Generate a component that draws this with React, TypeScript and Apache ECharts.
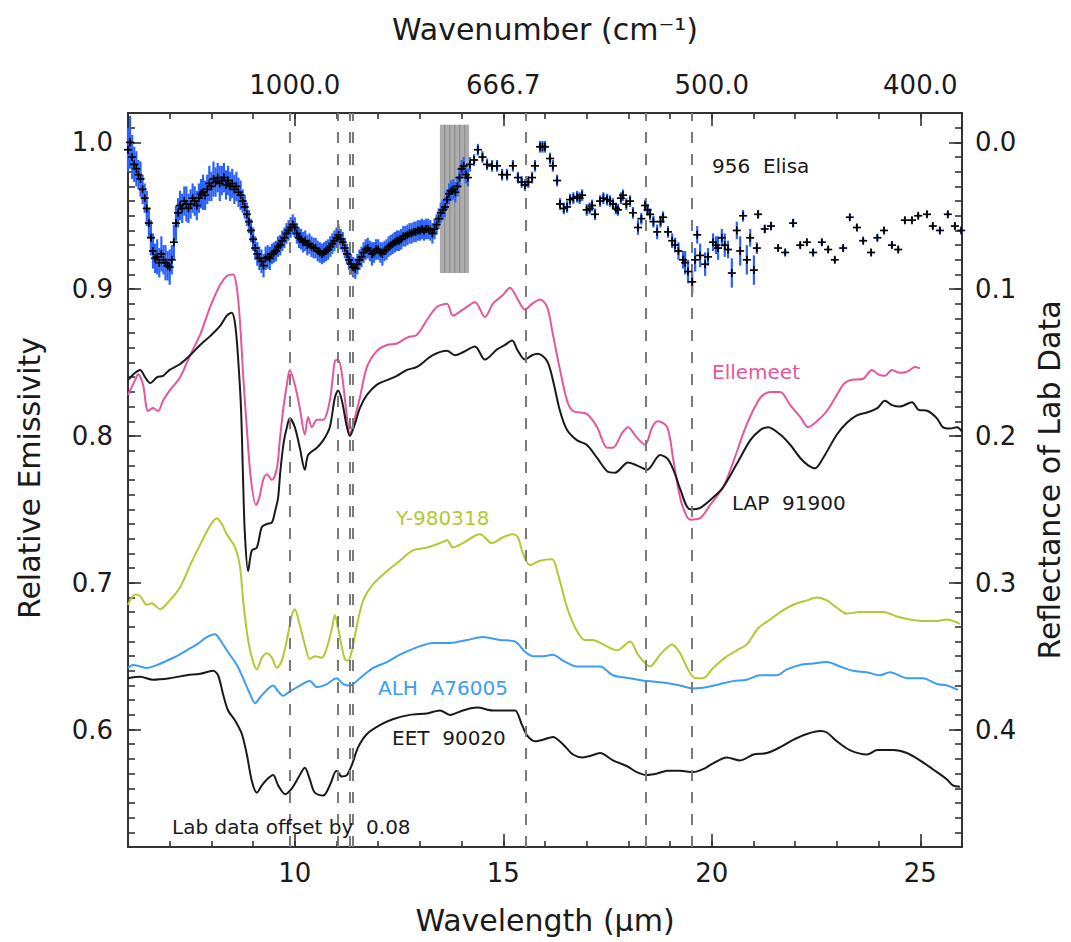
import React, { useEffect, useRef } from "react";
import * as echarts from "echarts";

// ---------- data (wavelength in µm, relative emissivity) ----------
const wlMin = 6;
const wlMax = 26;
const majorWl = [10, 15, 20, 25];
const emisTicks = [0.6, 0.7, 0.8, 0.9, 1.0];
const reflTicks = [0.0, 0.1, 0.2, 0.3, 0.4];
const featureLines = [9.88, 11.02, 11.31, 11.4, 15.54, 18.42, 19.53];
const gapBand = [13.48, 14.18, 1.012, 0.911];
const gapStripes = [13.58, 13.7, 13.82, 13.94, 14.06];

// 956 Elisa: [wavelength, emissivity, error]
const elisa = [
  [6.0,0.995,0.015],[6.05,1.0,0.018],[6.1,0.99,0.015],[6.15,0.985,0.012],[6.2,0.982,0.012],[6.25,0.978,0.01],[6.3,0.975,0.012],[6.35,0.968,0.01],[6.4,0.962,0.01],[6.45,0.955,0.012],[6.5,0.945,0.01],[6.55,0.935,0.012],[6.6,0.926,0.012],[6.65,0.921,0.01],[6.7,0.922,0.012],[6.75,0.918,0.01],[6.8,0.924,0.012],[6.85,0.92,0.01],[6.9,0.918,0.012],[6.95,0.916,0.01],[7.0,0.915,0.012],[7.05,0.92,0.01],[7.1,0.932,0.012],[7.15,0.945,0.012],[7.2,0.952,0.01],[7.25,0.957,0.01],[7.3,0.955,0.01],[7.35,0.96,0.01],[7.4,0.958,0.012],[7.45,0.955,0.01],[7.5,0.958,0.01],[7.55,0.962,0.01],[7.6,0.96,0.01],[7.65,0.957,0.01],[7.7,0.962,0.01],[7.75,0.965,0.01],[7.8,0.966,0.012],[7.85,0.964,0.01],[7.9,0.968,0.01],[7.95,0.972,0.012],[8.0,0.97,0.01],[8.05,0.975,0.012],[8.1,0.973,0.01],[8.15,0.976,0.01],[8.2,0.972,0.012],[8.25,0.974,0.01],[8.3,0.976,0.01],[8.35,0.971,0.01],[8.4,0.974,0.01],[8.45,0.97,0.01],[8.5,0.972,0.01],[8.55,0.968,0.01],[8.6,0.97,0.01],[8.65,0.966,0.01],[8.7,0.964,0.01],[8.75,0.96,0.008],[8.8,0.956,0.008],[8.85,0.951,0.008],[8.9,0.946,0.008],[8.95,0.94,0.008],[9.0,0.934,0.008],[9.05,0.928,0.008],[9.1,0.924,0.008],[9.15,0.921,0.008],[9.2,0.919,0.008],[9.25,0.916,0.008],[9.3,0.921,0.008],[9.35,0.922,0.008],[9.4,0.921,0.008],[9.45,0.924,0.007],[9.5,0.925,0.007],[9.55,0.926,0.007],[9.6,0.929,0.007],[9.65,0.93,0.007],[9.7,0.933,0.007],[9.75,0.935,0.007],[9.8,0.938,0.007],[9.85,0.94,0.007],[9.9,0.942,0.007],[9.95,0.944,0.007],[10.0,0.942,0.007],[10.05,0.938,0.007],[10.1,0.935,0.007],[10.15,0.934,0.007],[10.2,0.932,0.007],[10.25,0.933,0.007],[10.3,0.93,0.007],[10.35,0.931,0.007],[10.4,0.929,0.007],[10.45,0.928,0.007],[10.5,0.928,0.007],[10.55,0.926,0.007],[10.6,0.925,0.007],[10.65,0.924,0.007],[10.7,0.925,0.007],[10.75,0.926,0.007],[10.8,0.927,0.007],[10.85,0.929,0.007],[10.9,0.931,0.007],[10.95,0.933,0.007],[11.0,0.935,0.007],[11.05,0.937,0.007],[11.1,0.934,0.007],[11.15,0.932,0.007],[11.2,0.928,0.007],[11.25,0.924,0.007],[11.3,0.92,0.007],[11.35,0.917,0.007],[11.4,0.915,0.007],[11.45,0.914,0.007],[11.5,0.917,0.007],[11.55,0.92,0.007],[11.6,0.922,0.007],[11.65,0.925,0.007],[11.7,0.927,0.007],[11.75,0.928,0.007],[11.8,0.926,0.007],[11.85,0.924,0.008],[11.9,0.925,0.007],[11.95,0.927,0.007],[12.0,0.927,0.007],[12.05,0.925,0.007],[12.1,0.924,0.008],[12.15,0.926,0.007],[12.2,0.927,0.007],[12.25,0.929,0.007],[12.3,0.93,0.007],[12.35,0.931,0.007],[12.4,0.932,0.007],[12.45,0.933,0.007],[12.5,0.933,0.007],[12.55,0.934,0.007],[12.6,0.936,0.007],[12.65,0.936,0.007],[12.7,0.937,0.007],[12.75,0.938,0.007],[12.8,0.938,0.007],[12.85,0.939,0.007],[12.9,0.939,0.007],[12.95,0.94,0.007],[13.0,0.94,0.007],[13.05,0.941,0.007],[13.1,0.94,0.007],[13.15,0.941,0.007],[13.2,0.941,0.007],[13.25,0.94,0.007],[13.3,0.938,0.007],[13.35,0.941,0.007],[13.4,0.944,0.007],[13.45,0.948,0.007],[13.5,0.952,0.007],[13.55,0.954,0.007],[13.6,0.956,0.007],[13.65,0.961,0.007],[13.7,0.965,0.007],[13.75,0.967,0.007],[13.8,0.968,0.007],[13.85,0.966,0.007],[13.9,0.97,0.007],[13.95,0.976,0.007],[14.0,0.982,0.006],[14.05,0.984,0.006],[14.1,0.978,0.006],[14.15,0.976,0.006],[14.2,0.985,0.005],
  [14.3,0.988,0.004],[14.39,0.995,0.004],[14.5,0.99,0.004],[14.61,0.985,0.004],[14.73,0.984,0.004],[14.85,0.984,0.004],[14.97,0.978,0.004],[15.09,0.978,0.004],[15.23,0.984,0.004],[15.35,0.976,0.004],[15.44,0.973,0.004],[15.52,0.971,0.004],[15.6,0.973,0.004],[15.69,0.976,0.004],[15.76,0.984,0.004],[15.88,0.997,0.004],[15.94,0.997,0.004],[16.0,0.997,0.004],[16.12,0.989,0.004],[16.19,0.984,0.004],[16.29,0.974,0.004],[16.36,0.958,0.004],[16.45,0.955,0.004],[16.53,0.956,0.004],[16.6,0.961,0.004],[16.68,0.962,0.004],[16.77,0.963,0.004],[16.83,0.962,0.004],[16.89,0.964,0.004],[17.0,0.954,0.004],[17.07,0.955,0.004],[17.13,0.957,0.004],[17.2,0.951,0.004],[17.32,0.96,0.004],[17.4,0.962,0.004],[17.49,0.961,0.004],[17.56,0.96,0.004],[17.63,0.958,0.004],[17.7,0.955,0.004],[17.75,0.954,0.004],[17.82,0.962,0.004],[17.87,0.964,0.004],[17.95,0.958,0.004],[18.04,0.96,0.004],[18.11,0.952,0.004],[18.23,0.942,0.005],[18.31,0.948,0.004],[18.4,0.957,0.004],[18.46,0.954,0.004],[18.52,0.951,0.004],[18.6,0.946,0.004],[18.69,0.939,0.005],[18.77,0.946,0.004],[18.83,0.949,0.004],[18.95,0.939,0.004],[19.05,0.933,0.005],[19.12,0.93,0.005],[19.2,0.926,0.006],[19.31,0.92,0.006],[19.36,0.918,0.008],[19.43,0.912,0.008],[19.53,0.905,0.008],[19.6,0.92,0.008],[19.65,0.937,0.006],[19.72,0.923,0.008],[19.84,0.917,0.008],[19.91,0.922,0.006],[20.03,0.932,0.006],[20.1,0.93,0.006],[20.15,0.928,0.008],[20.24,0.935,0.006],[20.31,0.93,0.008],[20.39,0.927,0.006],[20.48,0.911,0.01],[20.6,0.94,0.006],[20.68,0.926,0.01],[20.75,0.95,0.004],[20.84,0.92,0.01],[20.92,0.935,0.006],[21.01,0.913,0.01],[21.08,0.928,0.004],[21.11,0.951,0.003],[21.27,0.941,0.003],[21.42,0.943,0.003],[21.59,0.928,0.002],[21.76,0.925,0.002],[21.95,0.945,0.003],[22.12,0.93,0.002],[22.28,0.932,0.002],[22.43,0.925,0.002],[22.64,0.932,0.002],[22.79,0.927,0.002],[22.95,0.92,0.002],[23.15,0.928,0.002],[23.31,0.949,0.002],[23.48,0.942,0.002],[23.63,0.933,0.002],[23.82,0.925,0.002],[23.97,0.935,0.002],[24.13,0.94,0.002],[24.32,0.93,0.002],[24.47,0.927,0.002],[24.63,0.947,0.002],[24.8,0.947,0.002],[24.95,0.95,0.002],[25.16,0.951,0.002],[25.3,0.943,0.002],[25.47,0.94,0.002],[25.66,0.951,0.002],[25.83,0.943,0.002],[25.98,0.94,0.002],
];

const ellemeet = [
  [6.0,0.828],[6.17,0.838],[6.24,0.842],[6.36,0.835],[6.48,0.817],[6.6,0.819],[6.72,0.817],[6.84,0.824],[7.0,0.831],[7.25,0.84],[7.49,0.855],[7.73,0.869],[7.97,0.888],[8.21,0.903],[8.37,0.909],[8.52,0.91],[8.61,0.901],[8.69,0.876],[8.76,0.842],[8.85,0.805],[8.95,0.77],[9.07,0.753],[9.15,0.758],[9.24,0.77],[9.33,0.774],[9.45,0.77],[9.57,0.778],[9.64,0.797],[9.73,0.82],[9.81,0.835],[9.88,0.845],[10.0,0.835],[10.12,0.819],[10.24,0.801],[10.32,0.813],[10.41,0.806],[10.53,0.811],[10.68,0.811],[10.84,0.824],[10.96,0.851],[11.04,0.852],[11.13,0.842],[11.25,0.813],[11.32,0.801],[11.4,0.808],[11.56,0.826],[11.73,0.847],[11.97,0.858],[12.21,0.862],[12.45,0.863],[12.69,0.867],[12.93,0.869],[13.17,0.879],[13.41,0.888],[13.65,0.89],[13.79,0.882],[14.03,0.886],[14.32,0.891],[14.56,0.881],[14.75,0.89],[14.99,0.896],[15.16,0.901],[15.33,0.894],[15.52,0.886],[15.69,0.89],[15.88,0.893],[16.05,0.888],[16.19,0.869],[16.36,0.845],[16.53,0.824],[16.67,0.817],[17.0,0.815],[17.25,0.806],[17.49,0.792],[17.63,0.792],[17.85,0.802],[17.99,0.806],[18.2,0.799],[18.4,0.794],[18.57,0.806],[18.71,0.81],[18.93,0.806],[19.07,0.785],[19.19,0.765],[19.3,0.752],[19.48,0.743],[19.72,0.744],[19.96,0.753],[20.27,0.765],[20.51,0.782],[20.84,0.808],[21.16,0.826],[21.4,0.83],[21.64,0.83],[21.88,0.821],[22.12,0.813],[22.31,0.806],[22.52,0.81],[22.76,0.817],[23.0,0.828],[23.15,0.835],[23.31,0.838],[23.63,0.839],[23.84,0.845],[23.99,0.842],[24.15,0.841],[24.32,0.845],[24.51,0.843],[24.7,0.844],[24.87,0.847],[24.99,0.846],
];

const lap91900 = [
  [6.0,0.838],[6.17,0.843],[6.29,0.845],[6.41,0.84],[6.53,0.836],[6.7,0.84],[6.84,0.841],[7.0,0.845],[7.25,0.849],[7.49,0.855],[7.73,0.862],[7.97,0.868],[8.21,0.875],[8.37,0.882],[8.49,0.884],[8.57,0.876],[8.64,0.853],[8.71,0.819],[8.76,0.77],[8.8,0.735],[8.88,0.708],[8.97,0.722],[9.09,0.724],[9.21,0.738],[9.33,0.74],[9.45,0.741],[9.53,0.749],[9.6,0.758],[9.65,0.775],[9.73,0.795],[9.81,0.806],[9.88,0.812],[10.0,0.806],[10.12,0.792],[10.24,0.777],[10.32,0.787],[10.53,0.792],[10.68,0.797],[10.84,0.806],[10.96,0.826],[11.04,0.831],[11.13,0.824],[11.25,0.806],[11.32,0.8],[11.44,0.808],[11.56,0.819],[11.73,0.828],[11.97,0.835],[12.21,0.838],[12.45,0.841],[12.69,0.845],[12.93,0.847],[13.31,0.855],[13.65,0.858],[13.84,0.855],[14.03,0.857],[14.32,0.861],[14.56,0.852],[14.85,0.859],[15.04,0.862],[15.21,0.865],[15.35,0.858],[15.52,0.852],[15.69,0.855],[15.83,0.856],[16.05,0.851],[16.19,0.838],[16.36,0.817],[16.53,0.804],[16.77,0.797],[17.0,0.794],[17.25,0.785],[17.49,0.776],[17.68,0.775],[17.99,0.782],[18.2,0.78],[18.45,0.777],[18.76,0.787],[18.95,0.784],[19.12,0.774],[19.24,0.764],[19.48,0.75],[19.72,0.751],[20.03,0.758],[20.27,0.765],[20.6,0.781],[20.92,0.797],[21.16,0.804],[21.35,0.806],[21.64,0.801],[21.88,0.794],[22.12,0.785],[22.31,0.78],[22.48,0.778],[22.67,0.785],[23.0,0.801],[23.24,0.809],[23.48,0.814],[23.72,0.816],[23.97,0.819],[24.15,0.824],[24.32,0.821],[24.51,0.82],[24.8,0.823],[24.95,0.818],[25.18,0.817],[25.4,0.812],[25.54,0.806],[25.71,0.805],[25.88,0.806],[26.0,0.803],
];

const y980318 = [
  [6.0,0.685],[6.17,0.692],[6.29,0.691],[6.45,0.685],[6.57,0.686],[6.77,0.682],[7.0,0.688],[7.25,0.697],[7.49,0.712],[7.73,0.726],[7.97,0.739],[8.13,0.744],[8.25,0.74],[8.37,0.733],[8.57,0.724],[8.69,0.71],[8.76,0.688],[8.88,0.661],[9.0,0.646],[9.09,0.641],[9.21,0.649],[9.33,0.652],[9.45,0.649],[9.57,0.642],[9.69,0.647],[9.81,0.661],[9.93,0.678],[10.0,0.682],[10.12,0.671],[10.24,0.658],[10.36,0.648],[10.48,0.65],[10.65,0.649],[10.77,0.656],[10.89,0.669],[10.96,0.678],[11.04,0.669],[11.13,0.656],[11.2,0.648],[11.28,0.647],[11.37,0.654],[11.49,0.671],[11.64,0.688],[11.88,0.699],[12.21,0.708],[12.52,0.715],[12.83,0.722],[13.17,0.724],[13.48,0.727],[13.65,0.729],[13.79,0.724],[14.03,0.727],[14.44,0.733],[14.73,0.727],[14.99,0.731],[15.23,0.733],[15.35,0.731],[15.47,0.72],[15.64,0.712],[15.88,0.715],[16.17,0.716],[16.31,0.706],[16.53,0.683],[16.77,0.667],[16.96,0.661],[17.15,0.661],[17.39,0.658],[17.73,0.654],[18.04,0.66],[18.23,0.651],[18.52,0.643],[18.76,0.651],[19.05,0.658],[19.24,0.652],[19.41,0.642],[19.6,0.635],[19.79,0.635],[20.03,0.642],[20.32,0.649],[20.6,0.654],[20.84,0.658],[21.11,0.669],[21.4,0.675],[21.64,0.68],[21.95,0.685],[22.28,0.688],[22.52,0.69],[22.76,0.688],[23.0,0.683],[23.24,0.679],[23.55,0.68],[23.87,0.68],[24.11,0.68],[24.44,0.677],[24.75,0.675],[25.06,0.674],[25.4,0.674],[25.64,0.675],[25.95,0.672],
];

const alhA76005 = [
  [6.0,0.642],[6.12,0.644],[6.29,0.643],[6.45,0.642],[6.7,0.644],[6.94,0.647],[7.17,0.65],[7.41,0.654],[7.65,0.658],[7.89,0.663],[8.09,0.665],[8.21,0.661],[8.37,0.654],[8.61,0.644],[8.76,0.635],[8.93,0.624],[9.05,0.618],[9.17,0.622],[9.33,0.627],[9.48,0.63],[9.6,0.626],[9.72,0.623],[9.88,0.626],[10.12,0.63],[10.36,0.633],[10.53,0.629],[10.77,0.631],[11.0,0.635],[11.16,0.631],[11.32,0.63],[11.56,0.635],[11.88,0.642],[12.21,0.646],[12.52,0.651],[12.93,0.656],[13.31,0.659],[13.72,0.659],[14.13,0.661],[14.51,0.663],[14.92,0.661],[15.28,0.66],[15.52,0.653],[15.71,0.65],[15.95,0.65],[16.19,0.651],[16.43,0.647],[16.77,0.643],[17.08,0.643],[17.32,0.643],[17.63,0.637],[18.04,0.635],[18.45,0.633],[18.83,0.632],[19.24,0.63],[19.55,0.628],[19.89,0.629],[20.2,0.631],[20.51,0.633],[20.84,0.634],[21.16,0.637],[21.56,0.637],[21.8,0.641],[22.12,0.644],[22.43,0.645],[22.76,0.646],[23.07,0.643],[23.39,0.64],[23.72,0.639],[24.03,0.637],[24.27,0.639],[24.68,0.635],[25.06,0.635],[25.4,0.631],[25.64,0.63],[25.9,0.627],
];

const eet90020 = [
  [6.0,0.635],[6.29,0.636],[6.6,0.634],[7.0,0.635],[7.41,0.637],[7.73,0.638],[8.04,0.64],[8.16,0.637],[8.28,0.624],[8.4,0.613],[8.57,0.606],[8.73,0.597],[8.85,0.583],[8.97,0.565],[9.09,0.557],[9.21,0.562],[9.33,0.566],[9.48,0.569],[9.6,0.562],[9.77,0.556],[9.93,0.56],[10.08,0.567],[10.24,0.574],[10.36,0.566],[10.48,0.557],[10.68,0.555],[10.84,0.562],[11.0,0.572],[11.13,0.568],[11.25,0.569],[11.37,0.576],[11.52,0.588],[11.73,0.597],[12.04,0.603],[12.35,0.607],[12.76,0.61],[13.17,0.611],[13.48,0.613],[13.72,0.61],[14.03,0.613],[14.37,0.615],[14.75,0.613],[15.09,0.613],[15.28,0.613],[15.45,0.603],[15.57,0.596],[15.76,0.592],[15.95,0.593],[16.19,0.595],[16.43,0.59],[16.67,0.583],[16.91,0.581],[17.08,0.582],[17.32,0.584],[17.63,0.579],[17.97,0.575],[18.2,0.571],[18.45,0.569],[18.69,0.57],[18.93,0.572],[19.24,0.572],[19.55,0.571],[19.79,0.573],[20.03,0.577],[20.36,0.581],[20.68,0.579],[21.0,0.583],[21.32,0.584],[21.64,0.588],[21.95,0.593],[22.28,0.597],[22.6,0.599],[22.76,0.598],[23.0,0.592],[23.31,0.586],[23.72,0.583],[23.97,0.586],[24.35,0.586],[24.68,0.584],[24.99,0.579],[25.3,0.573],[25.64,0.566],[25.78,0.562],[25.95,0.561],
];

// ---------- styling ----------
const FONT = "DejaVu Sans";
const INK = "#1a1a1a";
const PINK = "#e6569b";
const LIME = "#b3c933";
const SKY = "#3d9df2";

function buildOption() {
  const axisLine = { show: true, onZero: false, lineStyle: { color: "#333", width: 2 } };
  const noLine = { show: false, onZero: false };
  const tickStyle = { color: "#333", width: 1.6 };
  const labelStyle = { fontSize: 26, color: INK, fontFamily: FONT };
  const noSplit = { show: false };

  const xAxes = [
    {
      type: "value", min: wlMin, max: wlMax, position: "bottom", axisLine,
      axisTick: { show: true, inside: true, length: 13, customValues: majorWl, lineStyle: tickStyle },
      axisLabel: { ...labelStyle, customValues: majorWl, margin: 13, formatter: (v: number) => String(v) },
      splitLine: noSplit,
    },
    {
      type: "value", min: wlMin, max: wlMax, interval: 1, position: "bottom",
      axisLine: noLine,
      axisTick: { show: true, inside: true, length: 6, lineStyle: tickStyle },
      axisLabel: { show: false }, splitLine: noSplit,
    },
    {
      type: "value", min: wlMin, max: wlMax, position: "top", axisLine,
      axisTick: { show: true, inside: true, length: 13, customValues: majorWl, lineStyle: tickStyle },
      axisLabel: { ...labelStyle, customValues: majorWl, margin: 15, formatter: (v: number) => (10000 / v).toFixed(1) },
      splitLine: noSplit,
    },
    {
      type: "value", min: wlMin, max: wlMax, interval: 1, position: "top",
      axisLine: noLine,
      axisTick: { show: true, inside: true, length: 6, lineStyle: tickStyle },
      axisLabel: { show: false }, splitLine: noSplit,
    },
  ];

  const yAxes = [
    {
      type: "value", min: 0.52, max: 1.02, position: "left", axisLine,
      axisTick: { show: true, inside: true, length: 13, customValues: emisTicks, lineStyle: tickStyle },
      axisLabel: { ...labelStyle, customValues: emisTicks, margin: 15, formatter: (v: number) => v.toFixed(1) },
      splitLine: noSplit,
    },
    {
      type: "value", min: 0.52, max: 1.02, interval: 0.01, position: "left",
      axisLine: noLine,
      axisTick: { show: true, inside: true, length: 7, lineStyle: tickStyle },
      axisLabel: { show: false }, splitLine: noSplit,
    },
    {
      type: "value", min: -0.02, max: 0.48, inverse: true, position: "right", axisLine,
      axisTick: { show: true, inside: true, length: 13, customValues: reflTicks, lineStyle: tickStyle },
      axisLabel: { ...labelStyle, customValues: reflTicks, margin: 13, formatter: (v: number) => Math.abs(v).toFixed(1) },
      splitLine: noSplit,
    },
    {
      type: "value", min: -0.02, max: 0.48, interval: 0.01, inverse: true, position: "right",
      axisLine: noLine,
      axisTick: { show: true, inside: true, length: 7, lineStyle: tickStyle },
      axisLabel: { show: false }, splitLine: noSplit,
    },
  ];

  const curve = (name: string, data: number[][], color: string) => ({
    name, type: "line", data, xAxisIndex: 0, yAxisIndex: 0,
    symbol: "none", showSymbol: false, smooth: 0.3, z: 3,
    lineStyle: { color, width: 2 }, silent: true,
  });

  const bandAreas: any[] = [
    [{ xAxis: gapBand[0], yAxis: gapBand[2] }, { xAxis: gapBand[1], yAxis: gapBand[3] }],
    ...gapStripes.map((s) => [
      { xAxis: s, yAxis: gapBand[2], itemStyle: { color: "#8f8f8f" } },
      { xAxis: s + 0.03, yAxis: gapBand[3] },
    ]),
  ];

  const series: any[] = [
    {
      name: "refs", type: "line", data: [], xAxisIndex: 0, yAxisIndex: 0, z: 1, silent: true,
      markArea: {
        silent: true,
        itemStyle: { color: "#adadad", opacity: 1 },
        data: bandAreas,
      },
      markLine: {
        silent: true, symbol: ["none", "none"], label: { show: false },
        lineStyle: { color: "#7a7a7a", type: [11, 11], width: 2 },
        data: featureLines.map((v) => ({ xAxis: v })),
      },
    },
    curve("Ellemeet", ellemeet, PINK),
    curve("LAP 91900", lap91900, INK),
    curve("Y-980318", y980318, LIME),
    curve("ALH A76005", alhA76005, SKY),
    curve("EET 90020", eet90020, INK),
    {
      name: "956 Elisa error", type: "custom", data: elisa, xAxisIndex: 0, yAxisIndex: 0, z: 4, silent: true,
      encode: { x: 0, y: 1 },
      renderItem: (_p: any, api: any) => {
        const x = api.value(0), y = api.value(1), e = api.value(2);
        const top = api.coord([x, y + e]);
        const bot = api.coord([x, y - e]);
        return { type: "line", shape: { x1: top[0], y1: top[1], x2: bot[0], y2: bot[1] }, style: { stroke: "#2a62ff", lineWidth: 2.2 } };
      },
    },
    {
      name: "956 Elisa", type: "custom", data: elisa, xAxisIndex: 0, yAxisIndex: 0, z: 5, silent: true,
      encode: { x: 0, y: 1 },
      renderItem: (_p: any, api: any) => {
        const p = api.coord([api.value(0), api.value(1)]);
        const s = 4;
        return {
          type: "group",
          children: [
            { type: "line", shape: { x1: p[0] - s, y1: p[1], x2: p[0] + s, y2: p[1] }, style: { stroke: "#000", lineWidth: 1.7 } },
            { type: "line", shape: { x1: p[0], y1: p[1] - s, x2: p[0], y2: p[1] + s }, style: { stroke: "#000", lineWidth: 1.7 } },
          ],
        };
      },
    },
  ];

  const txt = (text: string, x: number, y: number, fill: string, size = 20, align = "left", rotation = 0) => ({
    type: "text", x, y, rotation, silent: true, z: 10,
    style: { text, fill, fontSize: size, fontFamily: FONT, align, verticalAlign: "middle" },
  });

  const graphic = [
    txt("Wavenumber (cm⁻¹)", 545, 29, INK, 30, "center"),
    txt("Wavelength (μm)", 545, 920, INK, 30, "center"),
    txt("Relative Emissivity", 29, 478, INK, 30, "center", Math.PI / 2),
    txt("Reflectance of Lab Data", 1049, 480, INK, 30, "center", Math.PI / 2),
    txt("956  Elisa", 712, 166, INK),
    txt("Ellemeet", 712, 372, PINK),
    txt("LAP  91900", 732, 503, INK),
    txt("Y-980318", 396, 518, LIME),
    txt("ALH  A76005", 378, 688, SKY),
    txt("EET  90020", 392, 738, INK),
    txt("Lab data offset by  0.08", 172, 827, INK),
  ];

  return {
    animation: false,
    backgroundColor: "#fff",
    textStyle: { fontFamily: FONT },
    grid: {
      left: 128, right: 109, top: 113, bottom: 95, containLabel: false,
      show: true, borderColor: "#333", borderWidth: 2, backgroundColor: "transparent",
    },
    xAxis: xAxes,
    yAxis: yAxes,
    series,
    graphic,
  };
}

export default function App() {
  const ref = useRef<HTMLDivElement>(null);
  useEffect(() => {
    if (!ref.current) return;
    const chart = echarts.init(ref.current, null, { renderer: "svg" });
    chart.setOption(buildOption() as any);
    return () => chart.dispose();
  }, []);
  return (
    <div
      ref={ref}
      style={{ position: "fixed", left: 0, top: 0, width: 1071, height: 942, background: "#fff" }}
    />
  );
}
